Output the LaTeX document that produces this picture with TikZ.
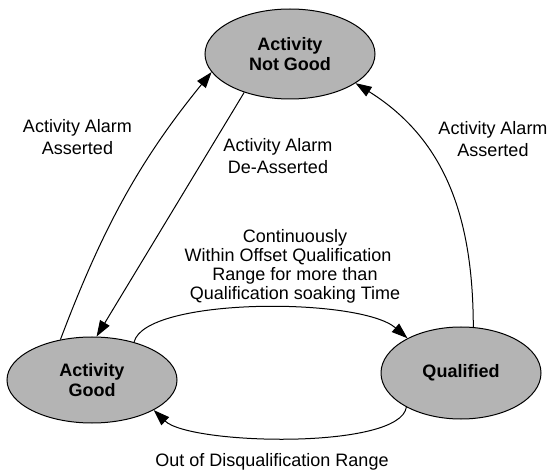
\documentclass[tikz,border=0pt]{standalone}
\usepackage{fontspec}
\setmainfont{Liberation Sans}
\usetikzlibrary{shapes.geometric,arrows.meta}
\definecolor{stategray}{RGB}{180,180,180}
\begin{document}
\begin{tikzpicture}[x=1pt,y=-1pt,
  state/.style={ellipse,draw=black,line width=1pt,fill=stategray,inner sep=0pt,align=center,font=\fontsize{18}{20}\selectfont\bfseries},
  lbl/.style={align=center,inner sep=0pt,font=\fontsize{18}{22}\selectfont},
  arr/.style={draw=black,line width=1pt,-{Triangle[length=16pt,width=11pt]}}]
\useasboundingbox (0,0) rectangle (552,473);
\node[state,minimum width=170pt,minimum height=90pt] (notgood) at (290,54) {Activity\\Not Good};
\node[state,minimum width=170pt,minimum height=86pt] (good) at (92,380) {Activity\\Good};
\node[state,minimum width=160pt,minimum height=92pt] (qual) at (461,373) {Qualified};

\node[lbl] (l1) at (77.5,137.5) {Activity Alarm\\Asserted};
\node[lbl] (l2) at (278,156.5) {Activity Alarm\\De-Asserted};
\node[lbl] (l3) at (493,139.5) {Activity Alarm\\Asserted};
\node[lbl,font=\fontsize{18}{19}\selectfont] (l4) at (295,266) {Continuously\\\mbox{Within Offset Qualification\hspace{14pt}}\\Range for more than\\Qualification soaking Time};
\node[lbl] (l5) at (272,462) {Out of Disqualification Range};

\draw[arr] (good.128) .. controls (103,227) and (140,160) .. (notgood.193);
\draw[arr] (notgood.220) -- (good.84);
\draw[arr] (qual.75) .. controls (473,222) and (448,141) .. (notgood.336);
\draw[arr] (good.42) .. controls (145,297) and (360,297) .. (qual.147);
\draw[arr] (qual.212) .. controls (400,450) and (190,445) .. (good.334);
\end{tikzpicture}
\end{document}
